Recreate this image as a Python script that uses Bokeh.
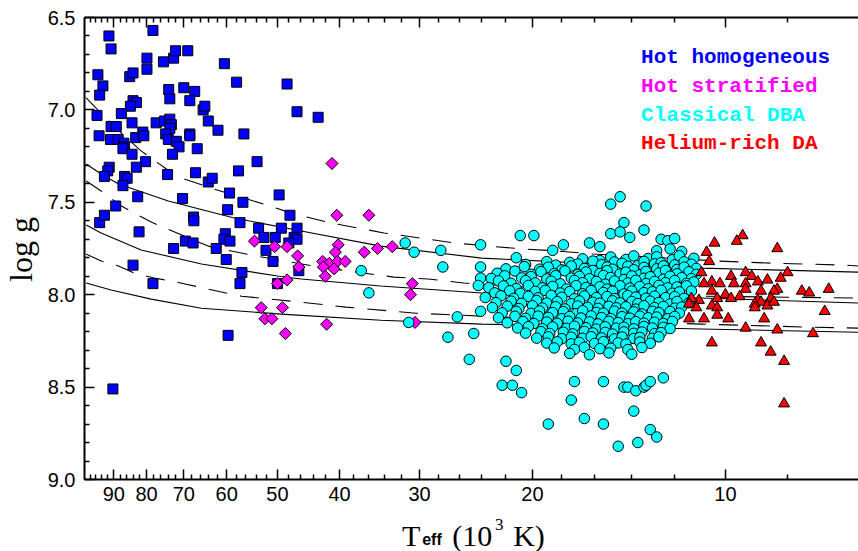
import numpy as np
from bokeh.plotting import figure
from bokeh.layouts import column, row
from bokeh.models import Range1d, LogAxis, FixedTicker, PrintfTickFormatter, Label, CustomLabelingPolicy
from bokeh.core.properties import value
from bokeh.embed import file_html
from bokeh.resources import INLINE

# ---------------- axis ticks ----------------
x_major = [10, 20, 30, 40, 50, 60, 70, 80, 90]
x_minor = [6, 8, 12, 14, 16, 18, 22, 24, 26, 28, 32, 34, 36, 38, 42, 44, 46, 48,
           52, 54, 56, 58, 62, 64, 66, 68, 72, 74, 76, 78, 82, 84, 86, 88, 92, 94, 96, 98]
y_major = [6.5, 7.0, 7.5, 8.0, 8.5, 9.0]
y_minor = [6.6, 6.7, 6.8, 6.9, 7.1, 7.2, 7.3, 7.4, 7.6, 7.7, 7.8, 7.9,
           8.1, 8.2, 8.3, 8.4, 8.6, 8.7, 8.8, 8.9]

# ---------------- model sequences (solid / dashed) ----------------
trackA_teff = [99.4, 95.0, 87.6, 81.6, 74.5, 70.6, 62.8, 52.6, 47.1, 41.2, 34.1, 30.0, 26.5, 23.4, 20.6, 18.2, 16.1, 13.1, 10.3, 8.5, 6.5, 6.2]
trackA_logg = [6.935, 7.005, 7.125, 7.222, 7.320, 7.368, 7.428, 7.509, 7.563, 7.612, 7.666, 7.693, 7.720, 7.737, 7.753, 7.764, 7.780, 7.796, 7.818, 7.829, 7.840, 7.845]
trackB_teff = [99.4, 94.2, 88.5, 74.0, 58.4, 45.9, 34.5, 24.0, 15.6, 10.9, 6.2]
trackB_logg = [7.293, 7.347, 7.401, 7.493, 7.585, 7.655, 7.737, 7.802, 7.834, 7.856, 7.878]
trackC_teff = [99.4, 94.2, 87.6, 78.7, 69.9, 64.1, 54.9, 43.9, 38.7, 32.9, 29.1, 25.6, 15.6, 10.9, 6.2]
trackC_logg = [7.385, 7.439, 7.520, 7.607, 7.683, 7.737, 7.786, 7.845, 7.872, 7.905, 7.915, 7.937, 7.986, 8.008, 8.018]
trackD_teff = [99.4, 94.2, 81.6, 65.7, 50.0, 45.9, 34.5, 24.0, 10.9, 6.2]
trackD_logg = [7.623, 7.666, 7.758, 7.834, 7.899, 7.915, 7.953, 7.991, 8.018, 8.045]
trackE_teff = [99.4, 94.2, 88.5, 83.6, 77.9, 73.2, 69.4, 64.1, 56.9, 47.6, 39.1, 30.4, 24.0, 15.6, 10.9, 7.5, 6.2]
trackE_logg = [7.780, 7.818, 7.845, 7.883, 7.910, 7.926, 7.943, 7.970, 8.008, 8.035, 8.067, 8.100, 8.116, 8.143, 8.159, 8.175, 8.181]
trackF_teff = [99.4, 90.9, 78.7, 65.7, 49.3, 34.5, 24.0, 10.9, 6.2]
trackF_logg = [7.937, 7.975, 8.024, 8.073, 8.105, 8.138, 8.159, 8.186, 8.203]

# ---------------- Hot homogeneous ----------------
hot_hom_teff = [91.6, 90.9, 78.2, 79.9, 79.9, 75.3, 72.6, 72.1, 69.0, 60.5,
                95.3, 93.6, 94.7, 85.0, 84.0, 73.9, 73.6, 70.0, 67.3, 68.5,
                57.9, 48.3, 46.6, 84.0, 83.0, 84.8, 87.6, 95.6, 90.9, 89.2,
                84.3, 77.3, 75.0, 73.6, 73.2, 73.6, 74.7, 74.0, 65.3, 64.9,
                64.1, 61.9, 68.5, 68.5, 56.4, 94.9, 91.1, 88.6, 86.8, 86.6,
                87.1, 83.2, 81.1, 80.8, 71.9, 71.2, 72.9, 66.7, 84.3, 80.3,
                53.8, 91.5, 92.0, 83.0, 86.6, 85.8, 93.1, 87.1, 74.2, 67.1,
                64.1, 63.2, 57.5, 82.6, 70.3, 59.4, 56.6, 89.4, 94.7, 93.1,
                67.6, 67.5, 59.8, 57.2, 53.5, 49.7, 47.8, 49.3, 46.6, 82.2,
                60.3, 60.6, 59.3, 69.6, 67.7, 52.5, 50.4, 47.1, 72.6, 62.3,
                84.0, 60.1, 52.1, 50.8, 56.8, 57.2, 78.2, 59.7, 90.3, 46.3,
                50.0, 46.6, 48.0, 43.2]
hot_hom_logg = [6.60, 6.67, 6.57, 6.72, 6.78, 6.74, 6.72, 6.68, 6.68, 6.75,
                6.81, 6.87, 6.92, 6.82, 6.80, 6.89, 6.94, 6.88, 6.90, 6.95,
                6.85, 6.86, 7.01, 6.95, 6.96, 6.98, 7.02, 7.03, 7.09, 7.09,
                7.07, 7.07, 7.06, 7.05, 7.08, 7.10, 7.13, 7.16, 7.00, 6.98,
                7.06, 7.11, 7.13, 7.14, 7.13, 7.14, 7.16, 7.16, 7.18, 7.20,
                7.21, 7.15, 7.12, 7.14, 7.17, 7.20, 7.24, 7.21, 7.24, 7.28,
                7.28, 7.31, 7.33, 7.31, 7.36, 7.37, 7.36, 7.41, 7.35, 7.34,
                7.39, 7.37, 7.33, 7.47, 7.48, 7.45, 7.50, 7.52, 7.61, 7.57,
                7.58, 7.60, 7.54, 7.61, 7.64, 7.46, 7.57, 7.64, 7.64, 7.66,
                7.67, 7.70, 7.71, 7.71, 7.72, 7.69, 7.69, 7.69, 7.75, 7.75,
                7.84, 7.81, 7.76, 7.82, 7.88, 7.94, 7.94, 8.22, 8.51, 7.87,
                7.94, 7.70, 7.72, 7.04]

# ---------------- Hot stratified ----------------
hot_str_teff = [54.3, 50.5, 48.3, 46.5, 46.3, 50.0, 48.3, 53.0, 49.1, 52.3,
                51.0, 48.6, 41.1, 40.4, 36.0, 41.9, 40.2, 40.6, 36.6, 34.9,
                33.1, 42.5, 41.5, 40.3, 39.2, 42.4, 40.8, 42.1, 30.8, 31.0, 30.5]
hot_str_logg = [7.71, 7.74, 7.74, 7.79, 7.85, 7.94, 7.92, 8.07, 8.07, 8.13,
                8.13, 8.21, 7.29, 7.57, 7.57, 8.16, 7.73, 7.77, 7.77, 7.75,
                7.74, 7.82, 7.83, 7.82, 7.82, 7.85, 7.86, 7.90, 7.94, 8.00, 8.15]

# ---------------- Classical DBA: scattered objects ----------------
dba_out_teff = [31.6, 30.6, 27.8, 27.6, 24.1, 24.1, 24.1, 24.3, 37.0, 36.0,
                31.2, 26.2, 27.1, 24.7, 24.1, 14.6, 15.1, 13.3, 14.4, 15.1,
                14.6, 14.1, 13.4, 20.9, 19.9, 21.2, 17.9, 18.6, 16.3, 15.7,
                25.1, 22.0, 21.2, 22.3, 21.5, 20.8, 17.2, 17.4, 18.9, 16.6,
                15.5, 13.9, 13.1, 12.8, 14.7, 13.7, 12.5, 14.4, 14.2, 13.8,
                13.4, 13.3, 13.1, 15.5]
dba_out_logg = [7.72, 7.77, 7.76, 7.85, 7.73, 7.85, 7.91, 7.95, 7.87, 7.99,
                8.15, 8.12, 8.23, 8.21, 8.09, 7.47, 7.51, 7.52, 7.61, 7.67,
                7.66, 7.69, 7.65, 7.68, 7.68, 7.80, 7.73, 7.76, 7.72, 7.74,
                8.35, 8.36, 8.41, 8.49, 8.49, 8.53, 8.47, 8.57, 8.70, 8.67,
                8.70, 8.63, 8.73, 8.77, 8.82, 8.80, 8.45, 8.50, 8.50, 8.52,
                8.50, 8.49, 8.47, 8.47]

# ---------------- Classical DBA: dense group, read band by band ----------------
dba_band_teff = [
    [12.6, 12.3, 12.0],
    [12.8, 12.2, 11.7],
    [16.7, 15.7, 15.1, 14.3, 13.9, 13.2, 12.8, 12.1, 11.8, 11.2],
    [20.5, 19.0, 18.4, 17.5, 17.0, 16.1, 15.6, 14.9, 14.5, 13.7, 13.4, 12.9, 12.6, 12.0, 11.6, 11.3],
    [22.0, 20.6, 19.5, 18.9, 18.0, 17.4, 16.6, 16.1, 15.3, 15.0, 14.2, 13.9, 13.4, 12.8, 12.5, 11.9, 11.6, 11.1],
    [22.7, 21.3, 20.1, 19.4, 18.5, 17.8, 17.0, 16.5, 15.7, 15.3, 14.6, 14.3, 13.6, 13.3, 12.7, 12.4, 11.9, 11.4, 11.1],
    [23.2, 22.1, 20.8, 20.1, 19.0, 18.4, 17.4, 16.9, 16.3, 15.5, 15.1, 14.4, 14.0, 13.4, 13.1, 12.5, 12.2, 11.7, 11.3],
    [22.6, 21.6, 20.5, 19.8, 18.7, 18.1, 17.2, 16.7, 15.9, 15.4, 14.9, 14.2, 13.8, 13.3, 12.9, 12.4, 12.0, 11.5, 11.2],
    [23.4, 22.2, 21.2, 20.3, 19.3, 18.6, 17.7, 17.1, 16.5, 15.7, 15.3, 14.6, 14.1, 13.6, 13.2, 12.7, 12.3, 11.9, 11.5],
    [22.9, 21.7, 20.9, 19.8, 19.1, 18.1, 17.5, 16.7, 16.2, 15.5, 15.0, 14.4, 14.0, 13.4, 13.0, 12.6, 12.1, 11.8, 11.3],
    [23.7, 22.4, 21.4, 20.3, 19.6, 18.7, 18.0, 17.2, 16.6, 15.9, 15.3, 14.9, 14.2, 13.8, 13.3, 12.9, 12.4, 12.0, 11.6],
    [22.8, 21.6, 20.8, 19.7, 19.0, 18.3, 17.4, 16.9, 16.1, 15.7, 15.0, 14.6, 14.0, 13.7, 13.1, 12.7, 12.2, 11.9, 11.4],
    [23.1, 21.9, 21.0, 20.0, 19.3, 18.4, 17.8, 17.0, 16.4, 15.8, 15.2, 14.8, 14.3, 13.8, 13.4, 12.9, 12.5, 12.0, 11.7],
    [22.3, 21.2, 20.1, 19.5, 18.6, 17.9, 17.1, 16.7, 15.9, 15.5, 14.9, 14.5, 13.9, 13.5, 13.0, 12.7, 12.2, 11.8],
    [22.6, 21.3, 20.5, 19.6, 18.9, 18.0, 17.5, 16.8, 16.2, 15.6, 15.1, 14.5, 14.1, 13.6, 13.2, 12.8, 12.3, 12.0],
    [21.9, 20.7, 19.9, 19.0, 18.3, 17.6, 17.0, 16.3, 15.8, 15.2, 14.7, 14.2, 13.8, 13.4, 12.9, 12.5, 12.1],
    [21.1, 20.3, 19.3, 18.6, 17.7, 17.2, 16.5, 15.9, 15.4, 14.8, 14.4, 13.9, 13.4, 13.0, 12.5, 12.2],
    [20.5, 19.4, 18.8, 17.9, 17.3, 16.6, 16.1, 15.4, 15.0, 14.4, 13.9, 13.5, 12.9, 12.6],
    [19.7, 18.9, 18.0, 17.4, 16.7, 16.2, 15.6, 14.9, 14.5, 13.9, 13.6, 13.0, 12.7],
    [19.0, 18.3, 17.4, 16.9, 16.0, 15.5, 14.7, 14.3, 13.6, 13.1],
    [18.5, 17.2, 16.6, 15.7, 15.1, 14.2, 13.5],
    [17.5, 16.3, 15.2, 14.0],
]
dba_band_logg = [
    [7.700, 7.708, 7.696],
    [7.762, 7.752, 7.766],
    [7.806, 7.815, 7.796, 7.809, 7.790, 7.804, 7.795, 7.811, 7.789, 7.803],
    [7.836, 7.821, 7.840, 7.825, 7.834, 7.818, 7.838, 7.823, 7.830, 7.842, 7.820, 7.833, 7.827, 7.839, 7.822, 7.835],
    [7.860, 7.848, 7.862, 7.851, 7.866, 7.845, 7.858, 7.869, 7.850, 7.862, 7.846, 7.865, 7.852, 7.860, 7.844, 7.863, 7.851, 7.858],
    [7.884, 7.872, 7.889, 7.875, 7.886, 7.871, 7.890, 7.877, 7.885, 7.870, 7.888, 7.878, 7.892, 7.874, 7.883, 7.869, 7.887, 7.876, 7.890],
    [7.912, 7.898, 7.909, 7.902, 7.915, 7.897, 7.910, 7.901, 7.914, 7.896, 7.907, 7.918, 7.899, 7.911, 7.903, 7.916, 7.900, 7.908, 7.913],
    [7.925, 7.938, 7.924, 7.936, 7.927, 7.941, 7.923, 7.935, 7.929, 7.943, 7.926, 7.937, 7.922, 7.940, 7.928, 7.935, 7.924, 7.939, 7.931],
    [7.962, 7.953, 7.967, 7.950, 7.963, 7.955, 7.969, 7.951, 7.961, 7.957, 7.970, 7.952, 7.964, 7.956, 7.968, 7.950, 7.963, 7.958, 7.952],
    [7.990, 7.979, 7.993, 7.982, 7.977, 7.991, 7.983, 7.995, 7.978, 7.988, 7.981, 7.996, 7.980, 7.989, 7.984, 7.976, 7.992, 7.985, 7.980],
    [8.015, 8.006, 8.020, 8.009, 8.017, 8.004, 8.014, 8.022, 8.007, 8.016, 8.010, 8.021, 8.005, 8.013, 8.019, 8.008, 8.016, 8.011, 8.020],
    [8.043, 8.035, 8.047, 8.032, 8.045, 8.038, 8.049, 8.034, 8.041, 8.046, 8.033, 8.044, 8.037, 8.048, 8.035, 8.042, 8.050, 8.036, 8.044],
    [8.070, 8.062, 8.075, 8.060, 8.072, 8.065, 8.077, 8.061, 8.069, 8.074, 8.063, 8.071, 8.066, 8.078, 8.060, 8.070, 8.064, 8.073, 8.067],
    [8.098, 8.090, 8.101, 8.088, 8.097, 8.092, 8.103, 8.087, 8.096, 8.100, 8.089, 8.099, 8.093, 8.104, 8.090, 8.097, 8.091, 8.100],
    [8.125, 8.117, 8.128, 8.116, 8.123, 8.130, 8.118, 8.126, 8.115, 8.124, 8.129, 8.119, 8.127, 8.116, 8.125, 8.121, 8.130, 8.118],
    [8.152, 8.145, 8.156, 8.148, 8.155, 8.143, 8.153, 8.147, 8.158, 8.144, 8.151, 8.157, 8.146, 8.154, 8.149, 8.156, 8.145],
    [8.180, 8.173, 8.184, 8.175, 8.182, 8.171, 8.179, 8.186, 8.174, 8.181, 8.176, 8.185, 8.172, 8.180, 8.177, 8.183],
    [8.208, 8.200, 8.210, 8.203, 8.212, 8.199, 8.207, 8.204, 8.213, 8.201, 8.209, 8.202, 8.211, 8.205],
    [8.235, 8.228, 8.238, 8.230, 8.236, 8.227, 8.234, 8.239, 8.229, 8.237, 8.231, 8.236, 8.228],
    [8.262, 8.255, 8.266, 8.258, 8.264, 8.254, 8.261, 8.267, 8.256, 8.263],
    [8.288, 8.296, 8.285, 8.292, 8.290, 8.297, 8.286],
    [8.318, 8.325, 8.315, 8.322],
]

# ---------------- Helium-rich DA ----------------
he_da_teff = [9.4, 9.6, 10.4, 8.3, 10.7, 10.6, 10.9, 9.8, 9.3, 9.1,
              8.0, 8.2, 10.5, 10.2, 10.8, 9.7, 9.3, 8.9, 8.6, 10.5,
              10.0, 9.3, 8.8, 8.3, 8.4, 7.6, 7.4, 6.9, 10.3, 9.5,
              9.8, 11.0, 11.3, 8.5, 8.9, 8.8, 9.0, 9.0, 8.6, 8.4,
              10.5, 10.3, 11.1, 10.3, 10.8, 11.4, 9.9, 8.7, 7.0, 9.3,
              8.3, 7.3, 10.5, 8.8, 8.5, 8.1, 8.1, 11.4]
he_da_logg = [7.68, 7.71, 7.72, 7.75, 7.77, 7.82, 7.88, 7.90, 7.88, 7.90,
              7.88, 7.91, 7.93, 7.94, 7.94, 7.94, 7.94, 7.93, 7.92, 7.98,
              8.00, 7.97, 7.98, 7.97, 7.98, 7.98, 7.99, 7.97, 8.02, 8.01,
              8.02, 8.03, 8.02, 8.02, 8.03, 8.04, 8.05, 8.07, 8.06, 8.04,
              8.06, 8.07, 8.07, 8.11, 8.13, 8.13, 8.13, 8.13, 8.09, 8.18,
              8.19, 8.21, 8.26, 8.26, 8.31, 8.36, 8.59, 8.05]

legend_names = ["Hot homogeneous", "Hot stratified", "Classical DBA", "Helium-rich DA"]
legend_colors = ["#0000FF", "#FF00FF", "#00FFFF", "#FF0000"]

# assemble the DBA sample
dba_teff = list(dba_out_teff)
dba_logg = list(dba_out_logg)
for bt, bg in zip(dba_band_teff, dba_band_logg):
    dba_teff += bt
    dba_logg += bg

# ---------------- main figure ----------------
XR = (100, 6.2)
p = figure(width=818, height=514, x_axis_type="log",
           x_range=Range1d(*XR), y_range=Range1d(9.0, 6.5),
           output_backend="svg", toolbar_location=None,
           min_border_left=44, min_border_right=0, min_border_top=17, min_border_bottom=35)
p.outline_line_color = None
p.grid.visible = False

xa = p.xaxis[0]
xa.ticker = FixedTicker(ticks=x_major, minor_ticks=x_minor)
xa.formatter = PrintfTickFormatter(format="%d")
top = LogAxis(ticker=FixedTicker(ticks=x_major, minor_ticks=x_minor),
              major_label_text_font_size="1px", major_label_standoff=0,
              major_label_policy=CustomLabelingPolicy(code="return new Set()"))
p.add_layout(top, "above")
ya = p.yaxis[0]
ya.ticker = FixedTicker(ticks=y_major, minor_ticks=y_minor)
ya.formatter = PrintfTickFormatter(format="%.1f")

for ax in (xa, top, ya):
    ax.major_tick_in = 10
    ax.major_tick_out = 0
    ax.minor_tick_in = 5
    ax.minor_tick_out = 0
    ax.axis_line_width = 2
    ax.major_tick_line_width = 1.5
    ax.minor_tick_line_width = 1.5
    ax.axis_line_color = "black"
    ax.major_tick_line_color = "black"
    ax.minor_tick_line_color = "black"
    ax.major_label_text_font = "Liberation Sans"
    ax.major_label_text_color = "black"
xa.major_label_text_font_size = "20px"
xa.major_label_standoff = 7
ya.major_label_text_font_size = "20px"
ya.major_label_standoff = 9

# model lines
for tx, ty, dash in [(trackA_teff, trackA_logg, "dashed"), (trackB_teff, trackB_logg, "solid"),
                     (trackC_teff, trackC_logg, "dashed"), (trackD_teff, trackD_logg, "solid"),
                     (trackE_teff, trackE_logg, "dashed"), (trackF_teff, trackF_logg, "solid")]:
    p.line(tx, ty, line_color="black", line_width=1.1,
           line_dash=("19 13" if dash == "dashed" else "solid"))

# points
p.scatter(hot_hom_teff, hot_hom_logg, marker="square", size=10,
          fill_color=legend_colors[0], line_color="black", line_width=1)
p.scatter(hot_str_teff, hot_str_logg, marker="square", angle=np.pi / 4, size=8.5,
          fill_color=legend_colors[1], line_color="black", line_width=1)
p.scatter(dba_teff, dba_logg, marker="circle", size=10.5,
          fill_color=legend_colors[2], line_color="black", line_width=1)
p.scatter(he_da_teff, he_da_logg, marker="triangle", size=11,
          fill_color=legend_colors[3], line_color="black", line_width=1)

# legend text
legend_y = [6.717, 6.874, 7.028, 7.183]
for name, col, yy in zip(legend_names, legend_colors, legend_y):
    p.add_layout(Label(x=13.54, y=yy, text=name, text_color=col, text_font="Liberation Mono",
                       text_font_style="bold", text_font_size="21px",
                       text_align="left", text_baseline="middle"))

# ---------------- strip below for the x-axis title ----------------
q = figure(width=818, height=37, x_axis_type="log",
           x_range=Range1d(*XR), y_range=Range1d(37, 0),
           output_backend="svg", toolbar_location=None,
           x_axis_location=None, y_axis_location=None,
           min_border_left=44, min_border_right=0, min_border_top=0, min_border_bottom=0)
q.outline_line_color = None
q.grid.visible = False
q.text(x=[31.95, 26.69, 21.44], y=[21, 21, 21], text=["T", "(10", "K)"],
       text_font=value("Liberation Serif"), text_font_size="30px", text_color="black",
       text_align="left", text_baseline="alphabetic")
q.text(x=[29.73], y=[25], text=["eff"], text_font=value("Liberation Sans"), text_font_style="bold",
       text_font_size="16px", text_color="black", text_align="left", text_baseline="alphabetic")
q.text(x=[22.88], y=[10], text=["3"], text_font=value("Liberation Serif"),
       text_font_size="17px", text_color="black", text_align="left", text_baseline="alphabetic")

# ---------------- strip on the left for the y-axis title ----------------
s = figure(width=40, height=551, x_range=Range1d(0, 40), y_range=Range1d(551, 0),
           output_backend="svg", toolbar_location=None,
           x_axis_location=None, y_axis_location=None,
           min_border_left=0, min_border_right=0, min_border_top=0, min_border_bottom=0)
s.outline_line_color = None
s.grid.visible = False
s.text(x=[20], y=[249], text=["log g"], angle=np.pi / 2, text_font=value("Liberation Serif"),
       text_font_size="32px", text_color="black", text_align="center", text_baseline="middle")

layout = row(s, column(p, q, spacing=0), spacing=0)
open("out.html", "w").write(file_html(layout, INLINE))
